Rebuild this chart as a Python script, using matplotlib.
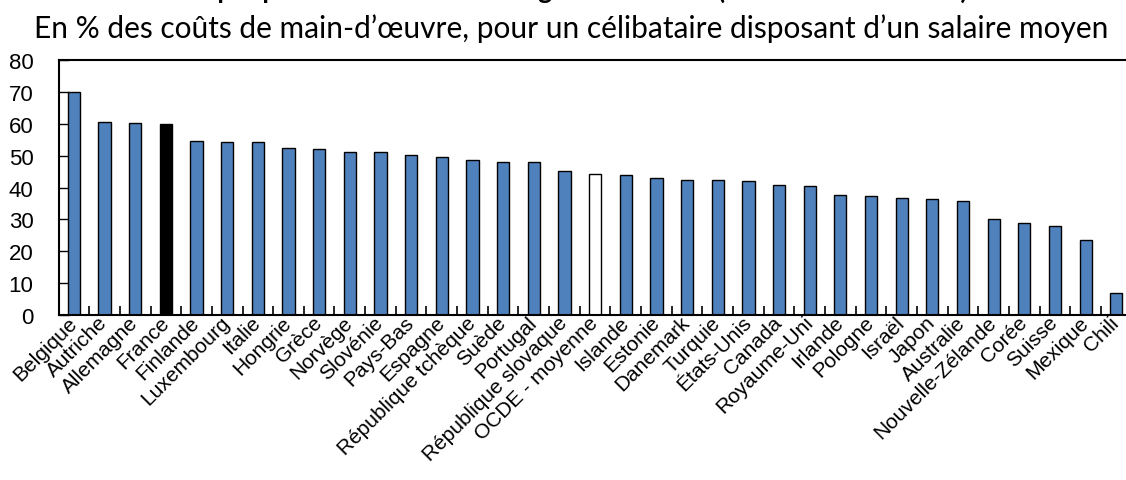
import matplotlib.pyplot as plt
import numpy as np

countries = ['Belgique', 'Autriche', 'Allemagne', 'France', 'Finlande', 'Luxembourg',
             'Italie', 'Hongrie', 'Grèce', 'Norvège', 'Slovénie', 'Pays-Bas', 'Espagne',
             'République tchèque', 'Suède', 'Portugal', 'République slovaque',
             'OCDE - moyenne', 'Islande', 'Estonie', 'Danemark', 'Turquie', 'États-Unis',
             'Canada', 'Royaume-Uni', 'Irlande', 'Pologne', 'Israël', 'Japon', 'Australie',
             'Nouvelle-Zélande', 'Corée', 'Suisse', 'Mexique', 'Chili']
values = [69.9, 60.7, 60.4, 59.9, 54.6, 54.3, 54.2, 52.5, 52.2, 51.2, 51.0, 50.2, 49.7,
          48.7, 48.0, 47.9, 45.2, 44.3, 43.9, 43.0, 42.4, 42.3, 41.9, 40.9, 40.4, 37.8,
          37.3, 36.8, 36.3, 35.9, 30.0, 29.0, 28.0, 23.4, 7.0]

title = 'Graphique 1. Coin fiscal : écart global en 2013 (total des cotisations)'
subtitle = 'En % des coûts de main-d\u2019œuvre, pour un célibataire disposant d\u2019un salaire moyen'

colors = []
for c in countries:
    if c == 'France':
        colors.append('black')
    elif c == 'OCDE - moyenne':
        colors.append('white')
    else:
        colors.append('#4F81BD')

fig = plt.figure(figsize=(11.26, 4.81), dpi=100)
ax = fig.add_axes([0.052, 0.343, 0.953, 0.530])

x = np.arange(len(countries))
ax.bar(x, values, width=0.4, color=colors, edgecolor='black', linewidth=1.0, zorder=2)

ax.set_xlim(-0.5, len(countries) - 0.5)
ax.set_ylim(0, 80)
ax.set_yticks(np.arange(0, 81, 10))
ax.tick_params(axis='y', direction='in', length=7, width=1, pad=18, labelsize=16)
for lab in ax.get_yticklabels():
    lab.set_family(['Liberation Sans Narrow', 'Liberation Sans'])

# libellés inclinés, fin du texte au droit de chaque barre
ax.set_xticks(x)
ax.set_xticklabels(countries, rotation=45, ha='right', va='center',
                   rotation_mode='anchor', fontsize=15, family='Liberation Sans')
ax.tick_params(axis='x', which='major', length=0, pad=3)
ax.set_xticks(x[:-1] + 0.5, minor=True)
ax.tick_params(axis='x', which='minor', direction='in', length=6.5, width=1.2)

for s in ax.spines.values():
    s.set_linewidth(1.5)

fig.text(0.507, 1.003, title, ha='center', va='baseline', fontsize=19,
         fontweight='bold', family='Lato')
fig.text(0.507, 0.921, subtitle, ha='center', va='baseline', fontsize=21.5, family='Lato')

fig.savefig('out.png', dpi=100)
